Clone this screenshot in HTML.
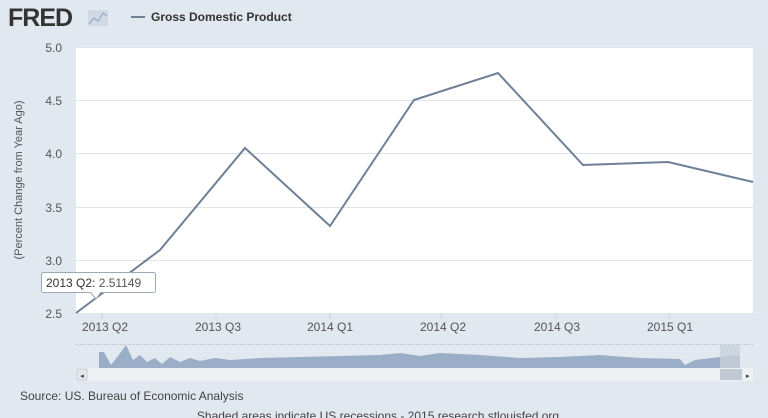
<!DOCTYPE html>
<html><head><style>
body{margin:0;width:768px;height:418px;overflow:hidden;background:#e1e8f0;font-family:"Liberation Sans",sans-serif;}
</style></head><body>
<svg width="768" height="418" xmlns="http://www.w3.org/2000/svg" style="position:absolute;left:0;top:0">
<rect width="768" height="418" fill="#e1e8f0"/>
<text x="8" y="26" font-size="25" font-weight="bold" fill="#333" font-family="Liberation Sans" letter-spacing="-1">FRED</text>
<rect x="88" y="10" width="20" height="16" fill="#d0d8e2"/>
<polyline points="89,24 94,18 98,21 103,13 107,16" fill="none" stroke="#8aa0c0" stroke-width="1"/>
<line x1="131" y1="17" x2="145" y2="17" stroke="#6f7f95" stroke-width="2"/>
<text x="151" y="21" font-size="12" font-weight="bold" fill="#333">Gross Domestic Product</text>
<rect x="76" y="47" width="677" height="266" fill="#fff"/>
<g stroke="#dfe4ea" stroke-width="1">
<line x1="76" y1="47.5" x2="753" y2="47.5"/><line x1="76" y1="100.5" x2="753" y2="100.5"/>
<line x1="76" y1="153.5" x2="753" y2="153.5"/><line x1="76" y1="207.5" x2="753" y2="207.5"/>
<line x1="76" y1="260.5" x2="753" y2="260.5"/><line x1="76" y1="313.5" x2="753" y2="313.5"/>
</g>
<g font-size="12" fill="#555" text-anchor="end">
<text x="62" y="52">5.0</text><text x="62" y="105">4.5</text><text x="62" y="158">4.0</text>
<text x="62" y="212">3.5</text><text x="62" y="265">3.0</text><text x="62" y="318">2.5</text>
</g>
<text transform="translate(22,180) rotate(-90)" font-size="11" fill="#555" text-anchor="middle">(Percent Change from Year Ago)</text>
<g stroke="#ccd3db"><line x1="102" y1="313" x2="102" y2="319"/><line x1="216" y1="313" x2="216" y2="319"/><line x1="330" y1="313" x2="330" y2="319"/><line x1="441" y1="313" x2="441" y2="319"/><line x1="556" y1="313" x2="556" y2="319"/><line x1="669" y1="313" x2="669" y2="319"/></g>
<g font-size="12" fill="#555" text-anchor="middle">
<text x="105" y="331">2013 Q2</text><text x="218" y="331">2013 Q3</text><text x="330" y="331">2014 Q1</text>
<text x="443" y="331">2014 Q2</text><text x="557" y="331">2014 Q3</text><text x="670" y="331">2015 Q1</text>
</g>
<polyline points="76,313 160,250 245,148 330,226 414,100 498,73 583,165 668,162 753,182" fill="none" stroke="#6f7f95" stroke-width="2"/>
<line x1="76" y1="344.5" x2="753" y2="344.5" stroke="#b8c0ca" stroke-dasharray="1,1"/>
<path d="M99,368 L99,352 L104,352 L111,365 L118,356 L126,345 L133,360 L140,355 L147,362 L155,358 L162,364 L170,357 L180,362 L190,358 L200,361 L215,358 L230,360 L260,358 L300,357 L340,356 L380,355 L400,353 L420,356 L440,353 L480,355 L520,358 L560,357 L600,355 L640,358 L680,359 L685,365 L695,360 L720,357 L740,355 L740,368 Z" fill="#9aaec8"/>
<rect x="720" y="345" width="20" height="33" fill="#c8d0da" opacity="0.8"/>
<rect x="76" y="368" width="677" height="13" fill="#eef1f4"/>
<rect x="77" y="369" width="10" height="11" fill="#e4e8ec" stroke="#ccc"/>
<text x="82" y="378" font-size="7" fill="#333" text-anchor="middle">◂</text>
<rect x="720" y="369" width="22" height="11" fill="#c0c8d2"/>
<text x="746" y="378" font-size="7" fill="#333">▸</text>
<text x="20" y="400" font-size="12" fill="#444">Source: US. Bureau of Economic Analysis</text>
<text x="378" y="420" font-size="12" fill="#444" text-anchor="middle">Shaded areas indicate US recessions - 2015 research.stlouisfed.org</text>
<rect x="41.5" y="272.5" width="114" height="20" rx="2" fill="#fff" stroke="#9aa8b8"/>
<path d="M90,292 L96,299 L101,292" fill="#fff" stroke="#9aa8b8"/>
<text x="46" y="287" font-size="12" fill="#333">2013 Q2: <tspan fill="#555">2.51149</tspan></text>
</svg>
</body></html>
